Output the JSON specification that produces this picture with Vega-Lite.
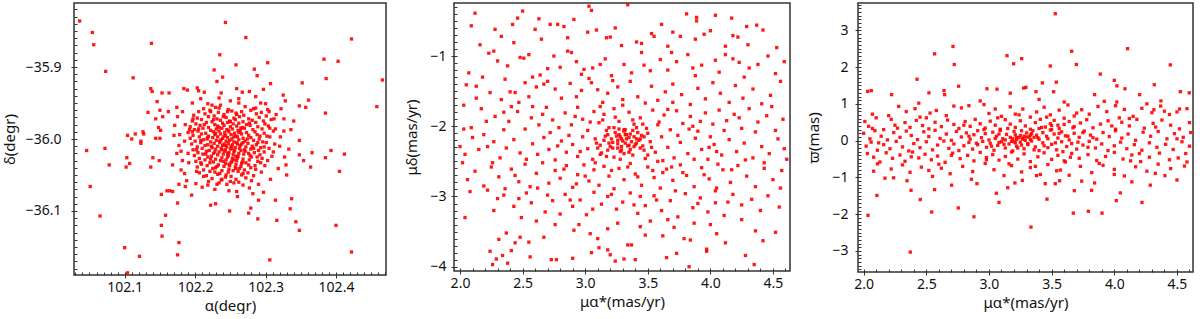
{
"$schema":"https://vega.github.io/schema/vega-lite/v6.json",
"background":"white",
"padding":{"left":1,"top":2,"right":2,"bottom":0},
"bounds":"flush",
"spacing":68,
"config":{"view":{"stroke":"#333","strokeWidth":1.5},"axis":{"domain":false,"grid":false,"ticks":true,"labelFont":"Noto Sans","labelFontSize":14,"labelColor":"#111","titleFont":"Noto Sans","titleFontSize":15,"titleFontWeight":"normal","titleColor":"#111","tickColor":"#333","tickWidth":1,"labelOverlap":false,"labelFlush":false,"offset":-3}},
"datasets":{
"radec":[
{"ra":102.036,"dec":-35.836},{"ra":102.243,"dec":-35.838},{"ra":102.054,"dec":-35.852},{"ra":102.056,"dec":-35.869},{"ra":102.272,"dec":-35.859},{"ra":102.422,"dec":-35.861},{"ra":102.138,"dec":-35.867},{"ra":102.235,"dec":-35.883},{"ra":102.073,"dec":-35.906},{"ra":102.112,"dec":-35.915},{"ra":102.258,"dec":-35.897},{"ra":102.303,"dec":-35.894},{"ra":102.383,"dec":-35.889},{"ra":102.403,"dec":-35.892},{"ra":102.227,"dec":-35.904},{"ra":102.284,"dec":-35.903},{"ra":102.231,"dec":-35.920},{"ra":102.239,"dec":-35.914},{"ra":102.288,"dec":-35.912},{"ra":102.307,"dec":-35.923},{"ra":102.352,"dec":-35.922},{"ra":102.386,"dec":-35.916},{"ra":102.466,"dec":-35.918},{"ra":102.137,"dec":-35.930},{"ra":102.139,"dec":-35.934},{"ra":102.153,"dec":-35.936},{"ra":102.163,"dec":-35.936},{"ra":102.184,"dec":-35.930},{"ra":102.189,"dec":-35.932},{"ra":102.203,"dec":-35.929},{"ra":102.205,"dec":-35.933},{"ra":102.213,"dec":-35.935},{"ra":102.259,"dec":-35.930},{"ra":102.267,"dec":-35.935},{"ra":102.277,"dec":-35.934},{"ra":102.297,"dec":-35.931},{"ra":102.325,"dec":-35.939},{"ra":102.361,"dec":-35.946},{"ra":102.328,"dec":-35.947},{"ra":102.348,"dec":-35.954},{"ra":102.357,"dec":-35.956},{"ra":102.458,"dec":-35.955},{"ra":102.385,"dec":-35.964},{"ra":102.146,"dec":-35.948},{"ra":102.174,"dec":-35.956},{"ra":102.150,"dec":-35.960},{"ra":102.162,"dec":-35.962},{"ra":102.133,"dec":-35.963},{"ra":102.154,"dec":-35.969},{"ra":102.144,"dec":-35.972},{"ra":102.175,"dec":-35.969},{"ra":102.148,"dec":-35.984},{"ra":102.151,"dec":-35.988},{"ra":102.126,"dec":-35.990},{"ra":102.127,"dec":-35.993},{"ra":102.104,"dec":-35.995},{"ra":102.110,"dec":-36.000},{"ra":102.115,"dec":-35.993},{"ra":102.123,"dec":-36.003},{"ra":102.123,"dec":-36.006},{"ra":102.144,"dec":-35.999},{"ra":102.150,"dec":-35.999},{"ra":102.046,"dec":-36.016},{"ra":102.072,"dec":-36.013},{"ra":102.103,"dec":-36.026},{"ra":102.102,"dec":-36.039},{"ra":102.107,"dec":-36.034},{"ra":102.078,"dec":-36.036},{"ra":102.051,"dec":-36.066},{"ra":102.065,"dec":-36.107},{"ra":102.100,"dec":-36.151},{"ra":102.121,"dec":-36.163},{"ra":102.104,"dec":-36.186},{"ra":102.137,"dec":-36.039},{"ra":102.140,"dec":-36.026},{"ra":102.149,"dec":-36.030},{"ra":102.152,"dec":-36.077},{"ra":102.160,"dec":-36.072},{"ra":102.164,"dec":-36.072},{"ra":102.168,"dec":-36.073},{"ra":102.175,"dec":-36.089},{"ra":102.177,"dec":-36.063},{"ra":102.158,"dec":-36.106},{"ra":102.152,"dec":-36.120},{"ra":102.153,"dec":-36.135},{"ra":102.177,"dec":-36.144},{"ra":102.175,"dec":-36.161},{"ra":102.222,"dec":-36.092},{"ra":102.229,"dec":-36.090},{"ra":102.249,"dec":-36.100},{"ra":102.218,"dec":-36.064},{"ra":102.234,"dec":-36.061},{"ra":102.245,"dec":-36.063},{"ra":102.259,"dec":-36.073},{"ra":102.276,"dec":-36.103},{"ra":102.279,"dec":-36.096},{"ra":102.282,"dec":-36.076},{"ra":102.289,"dec":-36.111},{"ra":102.290,"dec":-36.085},{"ra":102.297,"dec":-36.074},{"ra":102.306,"dec":-36.168},{"ra":102.314,"dec":-36.085},{"ra":102.316,"dec":-36.113},{"ra":102.335,"dec":-36.097},{"ra":102.337,"dec":-36.083},{"ra":102.343,"dec":-36.115},{"ra":102.348,"dec":-36.127},{"ra":102.329,"dec":-36.036},{"ra":102.354,"dec":-36.030},{"ra":102.366,"dec":-36.019},{"ra":102.364,"dec":-36.039},{"ra":102.385,"dec":-36.026},{"ra":102.393,"dec":-36.016},{"ra":102.405,"dec":-36.045},{"ra":102.400,"dec":-36.120},{"ra":102.422,"dec":-36.157},{"ra":102.412,"dec":-36.021},{"ra":102.333,"dec":-36.014},{"ra":102.348,"dec":-36.022},{"ra":102.348,"dec":-36.002},{"ra":102.336,"dec":-35.987},{"ra":102.326,"dec":-35.989},{"ra":102.314,"dec":-35.986},{"ra":102.326,"dec":-35.972},{"ra":102.312,"dec":-35.972},{"ra":102.305,"dec":-35.962},{"ra":102.303,"dec":-35.959},{"ra":102.293,"dec":-35.950},{"ra":102.286,"dec":-35.941},{"ra":102.234,"dec":-35.943},{"ra":102.250,"dec":-35.947},{"ra":102.224,"dec":-35.953},{"ra":102.197,"dec":-35.972},{"ra":102.192,"dec":-35.987},{"ra":102.178,"dec":-35.994},{"ra":102.185,"dec":-36.003},{"ra":102.177,"dec":-36.009},{"ra":102.180,"dec":-36.017},{"ra":102.191,"dec":-36.033},{"ra":102.202,"dec":-36.045},{"ra":102.212,"dec":-36.052},{"ra":102.182,"dec":-36.030},{"ra":102.180,"dec":-36.043},{"ra":102.185,"dec":-36.048},
{"ra":102.218,"dec":-35.951},{"ra":102.236,"dec":-35.953},{"ra":102.262,"dec":-35.950},
{"ra":102.212,"dec":-35.958},{"ra":102.229,"dec":-35.956},{"ra":102.247,"dec":-35.959},{"ra":102.271,"dec":-35.955},{"ra":102.283,"dec":-35.958},
{"ra":102.205,"dec":-35.962},{"ra":102.221,"dec":-35.960},{"ra":102.233,"dec":-35.963},{"ra":102.252,"dec":-35.961},{"ra":102.266,"dec":-35.962},{"ra":102.279,"dec":-35.960},{"ra":102.294,"dec":-35.963},
{"ra":102.198,"dec":-35.967},{"ra":102.214,"dec":-35.965},{"ra":102.227,"dec":-35.968},{"ra":102.241,"dec":-35.966},{"ra":102.258,"dec":-35.964},{"ra":102.269,"dec":-35.967},{"ra":102.287,"dec":-35.965},{"ra":102.301,"dec":-35.968},
{"ra":102.203,"dec":-35.971},{"ra":102.219,"dec":-35.969},{"ra":102.231,"dec":-35.972},{"ra":102.244,"dec":-35.970},{"ra":102.255,"dec":-35.971},{"ra":102.263,"dec":-35.969},{"ra":102.276,"dec":-35.972},{"ra":102.291,"dec":-35.970},
{"ra":102.196,"dec":-35.975},{"ra":102.209,"dec":-35.973},{"ra":102.224,"dec":-35.976},{"ra":102.236,"dec":-35.974},{"ra":102.249,"dec":-35.975},{"ra":102.257,"dec":-35.973},{"ra":102.268,"dec":-35.976},{"ra":102.281,"dec":-35.974},{"ra":102.297,"dec":-35.975},{"ra":102.308,"dec":-35.973},
{"ra":102.201,"dec":-35.979},{"ra":102.216,"dec":-35.977},{"ra":102.228,"dec":-35.980},{"ra":102.239,"dec":-35.978},{"ra":102.246,"dec":-35.977},{"ra":102.254,"dec":-35.979},{"ra":102.262,"dec":-35.978},{"ra":102.273,"dec":-35.980},{"ra":102.286,"dec":-35.977},{"ra":102.299,"dec":-35.979},
{"ra":102.193,"dec":-35.983},{"ra":102.207,"dec":-35.981},{"ra":102.219,"dec":-35.984},{"ra":102.232,"dec":-35.982},{"ra":102.241,"dec":-35.981},{"ra":102.250,"dec":-35.983},{"ra":102.259,"dec":-35.982},{"ra":102.267,"dec":-35.984},{"ra":102.278,"dec":-35.981},{"ra":102.289,"dec":-35.983},{"ra":102.304,"dec":-35.982},
{"ra":102.199,"dec":-35.987},{"ra":102.211,"dec":-35.985},{"ra":102.222,"dec":-35.988},{"ra":102.230,"dec":-35.986},{"ra":102.238,"dec":-35.985},{"ra":102.245,"dec":-35.987},{"ra":102.253,"dec":-35.986},{"ra":102.261,"dec":-35.988},{"ra":102.270,"dec":-35.985},{"ra":102.282,"dec":-35.987},{"ra":102.295,"dec":-35.986},
{"ra":102.190,"dec":-35.991},{"ra":102.204,"dec":-35.989},{"ra":102.215,"dec":-35.992},{"ra":102.226,"dec":-35.990},{"ra":102.234,"dec":-35.989},{"ra":102.242,"dec":-35.991},{"ra":102.248,"dec":-35.990},{"ra":102.256,"dec":-35.992},{"ra":102.264,"dec":-35.989},{"ra":102.273,"dec":-35.991},{"ra":102.285,"dec":-35.990},{"ra":102.298,"dec":-35.992},{"ra":102.311,"dec":-35.989},
{"ra":102.197,"dec":-35.995},{"ra":102.209,"dec":-35.993},{"ra":102.219,"dec":-35.996},{"ra":102.228,"dec":-35.994},{"ra":102.236,"dec":-35.993},{"ra":102.243,"dec":-35.995},{"ra":102.251,"dec":-35.994},{"ra":102.258,"dec":-35.996},{"ra":102.266,"dec":-35.993},{"ra":102.276,"dec":-35.995},{"ra":102.288,"dec":-35.994},{"ra":102.302,"dec":-35.996},
{"ra":102.193,"dec":-35.999},{"ra":102.206,"dec":-35.997},{"ra":102.217,"dec":-36.000},{"ra":102.225,"dec":-35.998},{"ra":102.232,"dec":-35.997},{"ra":102.239,"dec":-35.999},{"ra":102.246,"dec":-35.998},{"ra":102.252,"dec":-36.000},{"ra":102.260,"dec":-35.997},{"ra":102.268,"dec":-35.999},{"ra":102.279,"dec":-35.998},{"ra":102.291,"dec":-36.000},{"ra":102.306,"dec":-35.997},
{"ra":102.200,"dec":-36.003},{"ra":102.212,"dec":-36.001},{"ra":102.222,"dec":-36.004},{"ra":102.230,"dec":-36.002},{"ra":102.237,"dec":-36.001},{"ra":102.244,"dec":-36.003},{"ra":102.249,"dec":-36.002},{"ra":102.255,"dec":-36.004},{"ra":102.262,"dec":-36.001},{"ra":102.271,"dec":-36.003},{"ra":102.283,"dec":-36.002},{"ra":102.296,"dec":-36.004},
{"ra":102.195,"dec":-36.007},{"ra":102.208,"dec":-36.005},{"ra":102.218,"dec":-36.008},{"ra":102.227,"dec":-36.006},{"ra":102.235,"dec":-36.005},{"ra":102.241,"dec":-36.007},{"ra":102.247,"dec":-36.006},{"ra":102.253,"dec":-36.008},{"ra":102.259,"dec":-36.005},{"ra":102.266,"dec":-36.007},{"ra":102.275,"dec":-36.006},{"ra":102.287,"dec":-36.008},{"ra":102.301,"dec":-36.005},{"ra":102.313,"dec":-36.007},
{"ra":102.203,"dec":-36.011},{"ra":102.214,"dec":-36.009},{"ra":102.224,"dec":-36.012},{"ra":102.232,"dec":-36.010},{"ra":102.239,"dec":-36.009},{"ra":102.245,"dec":-36.011},{"ra":102.251,"dec":-36.010},{"ra":102.257,"dec":-36.012},{"ra":102.264,"dec":-36.009},{"ra":102.272,"dec":-36.011},{"ra":102.281,"dec":-36.010},{"ra":102.293,"dec":-36.012},
{"ra":102.197,"dec":-36.015},{"ra":102.210,"dec":-36.013},{"ra":102.220,"dec":-36.016},{"ra":102.229,"dec":-36.014},{"ra":102.237,"dec":-36.013},{"ra":102.243,"dec":-36.015},{"ra":102.250,"dec":-36.014},{"ra":102.256,"dec":-36.016},{"ra":102.263,"dec":-36.013},{"ra":102.270,"dec":-36.015},{"ra":102.279,"dec":-36.014},{"ra":102.290,"dec":-36.016},{"ra":102.305,"dec":-36.013},
{"ra":102.204,"dec":-36.019},{"ra":102.216,"dec":-36.017},{"ra":102.226,"dec":-36.020},{"ra":102.234,"dec":-36.018},{"ra":102.242,"dec":-36.017},{"ra":102.248,"dec":-36.019},{"ra":102.255,"dec":-36.018},{"ra":102.262,"dec":-36.020},{"ra":102.271,"dec":-36.017},{"ra":102.284,"dec":-36.019},{"ra":102.298,"dec":-36.018},
{"ra":102.199,"dec":-36.023},{"ra":102.211,"dec":-36.021},{"ra":102.223,"dec":-36.024},{"ra":102.232,"dec":-36.022},{"ra":102.240,"dec":-36.021},{"ra":102.247,"dec":-36.023},{"ra":102.254,"dec":-36.022},{"ra":102.261,"dec":-36.024},{"ra":102.269,"dec":-36.021},{"ra":102.278,"dec":-36.023},{"ra":102.292,"dec":-36.022},{"ra":102.309,"dec":-36.024},
{"ra":102.206,"dec":-36.027},{"ra":102.218,"dec":-36.025},{"ra":102.229,"dec":-36.028},{"ra":102.238,"dec":-36.026},{"ra":102.246,"dec":-36.025},{"ra":102.253,"dec":-36.027},{"ra":102.260,"dec":-36.026},{"ra":102.268,"dec":-36.028},{"ra":102.280,"dec":-36.025},{"ra":102.295,"dec":-36.027},
{"ra":102.201,"dec":-36.031},{"ra":102.214,"dec":-36.029},{"ra":102.226,"dec":-36.032},{"ra":102.236,"dec":-36.030},{"ra":102.244,"dec":-36.029},{"ra":102.252,"dec":-36.031},{"ra":102.259,"dec":-36.030},{"ra":102.267,"dec":-36.032},{"ra":102.277,"dec":-36.029},{"ra":102.289,"dec":-36.031},{"ra":102.303,"dec":-36.030},
{"ra":102.209,"dec":-36.035},{"ra":102.221,"dec":-36.033},{"ra":102.233,"dec":-36.036},{"ra":102.243,"dec":-36.034},{"ra":102.251,"dec":-36.033},{"ra":102.258,"dec":-36.035},{"ra":102.266,"dec":-36.034},{"ra":102.276,"dec":-36.036},{"ra":102.293,"dec":-36.033},
{"ra":102.203,"dec":-36.039},{"ra":102.217,"dec":-36.037},{"ra":102.229,"dec":-36.040},{"ra":102.241,"dec":-36.038},{"ra":102.249,"dec":-36.037},{"ra":102.257,"dec":-36.039},{"ra":102.265,"dec":-36.038},{"ra":102.279,"dec":-36.040},{"ra":102.299,"dec":-36.037},
{"ra":102.212,"dec":-36.043},{"ra":102.225,"dec":-36.041},{"ra":102.238,"dec":-36.044},{"ra":102.248,"dec":-36.042},{"ra":102.258,"dec":-36.041},{"ra":102.270,"dec":-36.043},{"ra":102.286,"dec":-36.042},
{"ra":102.206,"dec":-36.047},{"ra":102.221,"dec":-36.045},{"ra":102.235,"dec":-36.048},{"ra":102.247,"dec":-36.046},{"ra":102.261,"dec":-36.045},{"ra":102.275,"dec":-36.047},{"ra":102.294,"dec":-36.046},
{"ra":102.216,"dec":-36.051},{"ra":102.232,"dec":-36.049},{"ra":102.251,"dec":-36.052},{"ra":102.266,"dec":-36.050},{"ra":102.283,"dec":-36.051},
{"ra":102.224,"dec":-36.055},{"ra":102.243,"dec":-36.053},{"ra":102.258,"dec":-36.056},{"ra":102.272,"dec":-36.054},
{"ra":102.219,"dec":-36.059},{"ra":102.237,"dec":-36.057},{"ra":102.262,"dec":-36.060},{"ra":102.280,"dec":-36.058},
{"ra":102.231,"dec":-36.063},{"ra":102.255,"dec":-36.061},{"ra":102.268,"dec":-36.064},
{"ra":102.222,"dec":-35.962},{"ra":102.240,"dec":-35.969},{"ra":102.259,"dec":-35.966},{"ra":102.277,"dec":-35.978},{"ra":102.213,"dec":-35.980},{"ra":102.226,"dec":-35.973},{"ra":102.250,"dec":-35.976},{"ra":102.265,"dec":-35.985},{"ra":102.205,"dec":-35.986},{"ra":102.234,"dec":-35.984},{"ra":102.247,"dec":-35.988},{"ra":102.292,"dec":-35.996},{"ra":102.218,"dec":-35.998},{"ra":102.229,"dec":-35.992},{"ra":102.241,"dec":-35.996},{"ra":102.255,"dec":-35.997},{"ra":102.262,"dec":-35.991},{"ra":102.274,"dec":-36.000},{"ra":102.208,"dec":-36.002},{"ra":102.223,"dec":-36.010},{"ra":102.235,"dec":-36.003},{"ra":102.243,"dec":-36.009},{"ra":102.252,"dec":-36.013},{"ra":102.260,"dec":-36.007},{"ra":102.268,"dec":-36.005},{"ra":102.283,"dec":-36.013},{"ra":102.215,"dec":-36.021},{"ra":102.228,"dec":-36.018},{"ra":102.238,"dec":-36.015},{"ra":102.246,"dec":-36.020},{"ra":102.258,"dec":-36.024},{"ra":102.265,"dec":-36.016},{"ra":102.276,"dec":-36.020},{"ra":102.288,"dec":-36.025},{"ra":102.208,"dec":-36.033},{"ra":102.222,"dec":-36.028},{"ra":102.231,"dec":-36.038},{"ra":102.240,"dec":-36.031},{"ra":102.248,"dec":-36.035},{"ra":102.255,"dec":-36.029},{"ra":102.263,"dec":-36.041},{"ra":102.272,"dec":-36.033},{"ra":102.285,"dec":-36.037},{"ra":102.228,"dec":-36.046},{"ra":102.244,"dec":-36.050},{"ra":102.254,"dec":-36.044},{"ra":102.268,"dec":-36.048},{"ra":102.238,"dec":-36.056},{"ra":102.250,"dec":-36.059},{"ra":102.246,"dec":-35.962},{"ra":102.234,"dec":-35.957},{"ra":102.289,"dec":-36.005},{"ra":102.298,"dec":-36.011},{"ra":102.202,"dec":-36.015},{"ra":102.196,"dec":-35.990},{"ra":102.311,"dec":-36.018},{"ra":102.190,"dec":-36.020},{"ra":102.186,"dec":-35.980},{"ra":102.306,"dec":-35.985},
{"ra":102.182,"dec":-35.962},{"ra":102.188,"dec":-36.058},{"ra":102.196,"dec":-35.950},{"ra":102.201,"dec":-36.062},{"ra":102.208,"dec":-35.944},{"ra":102.228,"dec":-36.070},{"ra":102.262,"dec":-35.944},{"ra":102.286,"dec":-35.957},{"ra":102.300,"dec":-35.951},{"ra":102.315,"dec":-35.966},{"ra":102.321,"dec":-35.997},{"ra":102.318,"dec":-36.041},{"ra":102.307,"dec":-36.056},{"ra":102.290,"dec":-36.063},{"ra":102.277,"dec":-36.068},{"ra":102.248,"dec":-36.072},{"ra":102.210,"dec":-36.067},{"ra":102.174,"dec":-36.020},{"ra":102.171,"dec":-35.981},{"ra":102.168,"dec":-36.036},{"ra":102.320,"dec":-36.010},{"ra":102.327,"dec":-36.025},{"ra":102.322,"dec":-35.958},{"ra":102.186,"dec":-36.066},{"ra":102.260,"dec":-36.080},{"ra":102.237,"dec":-35.936},{"ra":102.195,"dec":-36.078},{"ra":102.330,"dec":-36.050},{"ra":102.170,"dec":-35.995},{"ra":102.340,"dec":-35.975}
],
"pm":[
{"pmra":2.09,"pmdec":-0.57},{"pmra":2.12,"pmdec":-0.39},{"pmra":2.42,"pmdec":-0.55},{"pmra":2.46,"pmdec":-0.46},{"pmra":2.50,"pmdec":-0.36},{"pmra":3.03,"pmdec":-0.29},{"pmra":3.05,"pmdec":-0.35},{"pmra":3.34,"pmdec":-0.27},{"pmra":3.55,"pmdec":-0.72},{"pmra":3.81,"pmdec":-0.40},{"pmra":3.89,"pmdec":-0.45},{"pmra":4.04,"pmdec":-0.42},{"pmra":4.37,"pmdec":-0.56},{"pmra":4.42,"pmdec":-0.63},{"pmra":2.63,"pmdec":-0.47},{"pmra":3.89,"pmdec":-0.50},{"pmra":3.02,"pmdec":-0.66},
{"pmra":2.16,"pmdec":-0.84},{"pmra":2.27,"pmdec":-0.93},{"pmra":2.33,"pmdec":-0.72},{"pmra":2.43,"pmdec":-0.81},{"pmra":2.65,"pmdec":-0.76},{"pmra":2.72,"pmdec":-0.55},{"pmra":2.78,"pmdec":-0.55},{"pmra":2.83,"pmdec":-0.58},{"pmra":2.86,"pmdec":-0.74},{"pmra":3.09,"pmdec":-0.63},{"pmra":3.17,"pmdec":-0.74},{"pmra":3.24,"pmdec":-0.60},{"pmra":3.20,"pmdec":-0.73},{"pmra":3.29,"pmdec":-0.85},{"pmra":3.41,"pmdec":-0.80},{"pmra":3.45,"pmdec":-0.82},{"pmra":3.53,"pmdec":-0.68},{"pmra":3.70,"pmdec":-0.66},{"pmra":3.76,"pmdec":-0.72},{"pmra":3.88,"pmdec":-0.76},{"pmra":3.95,"pmdec":-0.69},{"pmra":4.00,"pmdec":-0.64},{"pmra":4.12,"pmdec":-0.86},{"pmra":4.18,"pmdec":-0.71},{"pmra":4.22,"pmdec":-0.73},{"pmra":4.29,"pmdec":-0.58},{"pmra":4.53,"pmdec":-0.88},{"pmra":2.60,"pmdec":-0.62},{"pmra":3.66,"pmdec":-0.86},{"pmra":4.30,"pmdec":-0.84},
{"pmra":2.07,"pmdec":-1.24},{"pmra":2.23,"pmdec":-0.96},{"pmra":2.30,"pmdec":-1.07},{"pmra":2.38,"pmdec":-1.14},{"pmra":2.48,"pmdec":-1.02},{"pmra":2.51,"pmdec":-1.03},{"pmra":2.55,"pmdec":-0.98},{"pmra":2.36,"pmdec":-1.33},{"pmra":2.58,"pmdec":-1.30},{"pmra":2.75,"pmdec":-1.00},{"pmra":2.86,"pmdec":-0.93},{"pmra":2.89,"pmdec":-0.95},{"pmra":2.93,"pmdec":-1.08},{"pmra":2.99,"pmdec":-1.19},{"pmra":3.06,"pmdec":-1.17},{"pmra":3.12,"pmdec":-1.12},{"pmra":3.21,"pmdec":-1.28},{"pmra":3.37,"pmdec":-1.24},{"pmra":3.47,"pmdec":-1.13},{"pmra":3.60,"pmdec":-1.05},{"pmra":3.66,"pmdec":-1.20},{"pmra":3.73,"pmdec":-1.08},{"pmra":3.82,"pmdec":-0.98},{"pmra":3.93,"pmdec":-1.13},{"pmra":4.04,"pmdec":-1.06},{"pmra":4.12,"pmdec":-0.98},{"pmra":4.18,"pmdec":-1.04},{"pmra":4.23,"pmdec":-1.09},{"pmra":4.31,"pmdec":-1.17},{"pmra":4.38,"pmdec":-1.12},{"pmra":4.59,"pmdec":-1.08},{"pmra":4.52,"pmdec":-1.25},{"pmra":2.70,"pmdec":-1.18},{"pmra":3.45,"pmdec":-0.95},{"pmra":3.88,"pmdec":-1.28},{"pmra":4.46,"pmdec":-1.00},{"pmra":2.18,"pmdec":-1.30},
{"pmra":2.03,"pmdec":-1.70},{"pmra":2.05,"pmdec":-1.41},{"pmra":2.13,"pmdec":-1.43},{"pmra":2.24,"pmdec":-1.52},{"pmra":2.40,"pmdec":-1.51},{"pmra":2.44,"pmdec":-1.52},{"pmra":2.47,"pmdec":-1.66},{"pmra":2.55,"pmdec":-1.58},{"pmra":2.61,"pmdec":-1.44},{"pmra":2.67,"pmdec":-1.40},{"pmra":2.70,"pmdec":-1.36},{"pmra":2.76,"pmdec":-1.47},{"pmra":2.81,"pmdec":-1.60},{"pmra":2.88,"pmdec":-1.39},{"pmra":2.93,"pmdec":-1.58},{"pmra":2.97,"pmdec":-1.49},{"pmra":3.03,"pmdec":-1.32},{"pmra":3.05,"pmdec":-1.38},{"pmra":3.10,"pmdec":-1.48},{"pmra":3.14,"pmdec":-1.66},{"pmra":3.18,"pmdec":-1.53},{"pmra":3.26,"pmdec":-1.44},{"pmra":3.30,"pmdec":-1.62},{"pmra":3.36,"pmdec":-1.36},{"pmra":3.42,"pmdec":-1.58},{"pmra":3.48,"pmdec":-1.67},{"pmra":3.53,"pmdec":-1.43},{"pmra":3.58,"pmdec":-1.63},{"pmra":3.64,"pmdec":-1.51},{"pmra":3.70,"pmdec":-1.40},{"pmra":3.77,"pmdec":-1.55},{"pmra":3.84,"pmdec":-1.69},{"pmra":3.90,"pmdec":-1.46},{"pmra":3.96,"pmdec":-1.61},{"pmra":4.02,"pmdec":-1.38},{"pmra":4.08,"pmdec":-1.53},{"pmra":4.15,"pmdec":-1.66},{"pmra":4.20,"pmdec":-1.42},{"pmra":4.26,"pmdec":-1.60},{"pmra":4.34,"pmdec":-1.47},{"pmra":4.41,"pmdec":-1.68},{"pmra":4.48,"pmdec":-1.56},{"pmra":4.56,"pmdec":-1.36},{"pmra":2.33,"pmdec":-1.62},{"pmra":3.22,"pmdec":-1.35},{"pmra":3.70,"pmdec":-1.66},
{"pmra":2.09,"pmdec":-2.02},{"pmra":2.17,"pmdec":-1.75},{"pmra":2.21,"pmdec":-1.93},{"pmra":2.28,"pmdec":-1.86},{"pmra":2.35,"pmdec":-2.05},{"pmra":2.39,"pmdec":-1.93},{"pmra":2.46,"pmdec":-1.79},{"pmra":2.52,"pmdec":-2.04},{"pmra":2.57,"pmdec":-1.88},{"pmra":2.63,"pmdec":-1.98},{"pmra":2.69,"pmdec":-1.73},{"pmra":2.74,"pmdec":-1.91},{"pmra":2.79,"pmdec":-2.02},{"pmra":2.84,"pmdec":-1.81},{"pmra":2.89,"pmdec":-1.98},{"pmra":2.94,"pmdec":-1.73},{"pmra":2.98,"pmdec":-1.90},{"pmra":3.02,"pmdec":-2.06},{"pmra":3.07,"pmdec":-1.79},{"pmra":3.11,"pmdec":-1.95},{"pmra":3.15,"pmdec":-1.83},{"pmra":3.19,"pmdec":-2.02},{"pmra":3.23,"pmdec":-1.75},{"pmra":3.27,"pmdec":-1.93},{"pmra":3.31,"pmdec":-2.05},{"pmra":3.35,"pmdec":-1.80},{"pmra":3.39,"pmdec":-1.97},{"pmra":3.44,"pmdec":-1.88},{"pmra":3.49,"pmdec":-2.03},{"pmra":3.54,"pmdec":-1.77},{"pmra":3.59,"pmdec":-1.94},{"pmra":3.63,"pmdec":-1.84},{"pmra":3.68,"pmdec":-2.05},{"pmra":3.73,"pmdec":-1.78},{"pmra":3.78,"pmdec":-1.96},{"pmra":3.84,"pmdec":-1.86},{"pmra":3.90,"pmdec":-2.07},{"pmra":3.96,"pmdec":-1.81},{"pmra":4.02,"pmdec":-1.97},{"pmra":4.07,"pmdec":-1.77},{"pmra":4.13,"pmdec":-1.92},{"pmra":4.19,"pmdec":-1.83},{"pmra":4.25,"pmdec":-2.03},{"pmra":4.31,"pmdec":-1.75},{"pmra":4.38,"pmdec":-1.94},{"pmra":4.45,"pmdec":-1.85},{"pmra":4.52,"pmdec":-2.06},{"pmra":4.58,"pmdec":-1.90},{"pmra":2.03,"pmdec":-2.04},{"pmra":2.41,"pmdec":-1.72},{"pmra":3.12,"pmdec":-1.72},{"pmra":3.86,"pmdec":-2.0},
{"pmra":2.00,"pmdec":-2.29},{"pmra":2.04,"pmdec":-2.40},{"pmra":2.10,"pmdec":-2.16},{"pmra":2.15,"pmdec":-2.33},{"pmra":2.22,"pmdec":-2.29},{"pmra":2.27,"pmdec":-2.22},{"pmra":2.32,"pmdec":-2.45},{"pmra":2.37,"pmdec":-2.31},{"pmra":2.43,"pmdec":-2.19},{"pmra":2.48,"pmdec":-2.38},{"pmra":2.53,"pmdec":-2.47},{"pmra":2.58,"pmdec":-2.25},{"pmra":2.62,"pmdec":-2.40},{"pmra":2.67,"pmdec":-2.16},{"pmra":2.71,"pmdec":-2.33},{"pmra":2.76,"pmdec":-2.48},{"pmra":2.81,"pmdec":-2.21},{"pmra":2.85,"pmdec":-2.37},{"pmra":2.90,"pmdec":-2.26},{"pmra":2.94,"pmdec":-2.43},{"pmra":2.98,"pmdec":-2.15},{"pmra":3.02,"pmdec":-2.32},{"pmra":3.06,"pmdec":-2.47},{"pmra":3.09,"pmdec":-2.24},{"pmra":3.13,"pmdec":-2.38},{"pmra":3.16,"pmdec":-2.14},{"pmra":3.20,"pmdec":-2.29},{"pmra":3.23,"pmdec":-2.44},{"pmra":3.26,"pmdec":-2.20},{"pmra":3.29,"pmdec":-2.34},{"pmra":3.32,"pmdec":-2.12},{"pmra":3.35,"pmdec":-2.27},{"pmra":3.38,"pmdec":-2.41},{"pmra":3.41,"pmdec":-2.18},{"pmra":3.44,"pmdec":-2.31},{"pmra":3.48,"pmdec":-2.46},{"pmra":3.52,"pmdec":-2.22},{"pmra":3.56,"pmdec":-2.37},{"pmra":3.61,"pmdec":-2.15},{"pmra":3.66,"pmdec":-2.30},{"pmra":3.71,"pmdec":-2.45},{"pmra":3.76,"pmdec":-2.23},{"pmra":3.82,"pmdec":-2.39},{"pmra":3.88,"pmdec":-2.17},{"pmra":3.93,"pmdec":-2.33},{"pmra":3.98,"pmdec":-2.47},{"pmra":4.03,"pmdec":-2.26},{"pmra":4.09,"pmdec":-2.41},{"pmra":4.15,"pmdec":-2.19},{"pmra":4.21,"pmdec":-2.36},{"pmra":4.27,"pmdec":-2.24},{"pmra":4.34,"pmdec":-2.45},{"pmra":4.41,"pmdec":-2.29},{"pmra":4.47,"pmdec":-2.39},{"pmra":4.54,"pmdec":-2.18},{"pmra":4.59,"pmdec":-2.32},{"pmra":3.99,"pmdec":-2.30},{"pmra":4.05,"pmdec":-2.36},
{"pmra":3.18,"pmdec":-2.12},{"pmra":3.21,"pmdec":-2.18},{"pmra":3.24,"pmdec":-2.09},{"pmra":3.26,"pmdec":-2.25},{"pmra":3.28,"pmdec":-2.15},{"pmra":3.30,"pmdec":-2.21},{"pmra":3.31,"pmdec":-2.07},{"pmra":3.33,"pmdec":-2.18},{"pmra":3.34,"pmdec":-2.28},{"pmra":3.36,"pmdec":-2.11},{"pmra":3.37,"pmdec":-2.22},{"pmra":3.39,"pmdec":-2.15},{"pmra":3.40,"pmdec":-2.26},{"pmra":3.42,"pmdec":-2.09},{"pmra":3.43,"pmdec":-2.20},{"pmra":3.45,"pmdec":-2.13},{"pmra":3.22,"pmdec":-2.31},{"pmra":3.25,"pmdec":-2.14},{"pmra":3.27,"pmdec":-2.04},{"pmra":3.29,"pmdec":-2.29},{"pmra":3.32,"pmdec":-2.24},{"pmra":3.35,"pmdec":-2.16},{"pmra":3.38,"pmdec":-2.06},{"pmra":3.41,"pmdec":-2.24},{"pmra":3.44,"pmdec":-2.18},{"pmra":3.19,"pmdec":-2.24},{"pmra":3.15,"pmdec":-2.20},{"pmra":3.47,"pmdec":-2.15},{"pmra":3.28,"pmdec":-2.36},{"pmra":3.36,"pmdec":-2.33},{"pmra":3.12,"pmdec":-2.27},{"pmra":3.50,"pmdec":-2.10},{"pmra":3.23,"pmdec":-2.02},{"pmra":3.33,"pmdec":-2.12},{"pmra":3.31,"pmdec":-2.39},{"pmra":3.17,"pmdec":-2.06},{"pmra":3.46,"pmdec":-2.28},{"pmra":3.08,"pmdec":-2.18},{"pmra":3.53,"pmdec":-2.30},{"pmra":3.26,"pmdec":-2.31},
{"pmra":2.02,"pmdec":-2.52},{"pmra":2.06,"pmdec":-2.76},{"pmra":2.12,"pmdec":-2.64},{"pmra":2.19,"pmdec":-2.85},{"pmra":2.25,"pmdec":-2.58},{"pmra":2.31,"pmdec":-2.72},{"pmra":2.36,"pmdec":-2.89},{"pmra":2.41,"pmdec":-2.61},{"pmra":2.47,"pmdec":-2.79},{"pmra":2.52,"pmdec":-2.54},{"pmra":2.56,"pmdec":-2.86},{"pmra":2.61,"pmdec":-2.67},{"pmra":2.66,"pmdec":-2.52},{"pmra":2.71,"pmdec":-2.81},{"pmra":2.76,"pmdec":-2.63},{"pmra":2.80,"pmdec":-2.74},{"pmra":2.85,"pmdec":-2.56},{"pmra":2.90,"pmdec":-2.87},{"pmra":2.94,"pmdec":-2.69},{"pmra":2.99,"pmdec":-2.55},{"pmra":3.03,"pmdec":-2.78},{"pmra":3.07,"pmdec":-2.62},{"pmra":3.11,"pmdec":-2.84},{"pmra":3.15,"pmdec":-2.57},{"pmra":3.19,"pmdec":-2.71},{"pmra":3.23,"pmdec":-2.89},{"pmra":3.27,"pmdec":-2.60},{"pmra":3.31,"pmdec":-2.76},{"pmra":3.36,"pmdec":-2.53},{"pmra":3.40,"pmdec":-2.68},{"pmra":3.45,"pmdec":-2.84},{"pmra":3.50,"pmdec":-2.58},{"pmra":3.55,"pmdec":-2.73},{"pmra":3.60,"pmdec":-2.88},{"pmra":3.65,"pmdec":-2.61},{"pmra":3.70,"pmdec":-2.77},{"pmra":3.76,"pmdec":-2.55},{"pmra":3.81,"pmdec":-2.70},{"pmra":3.87,"pmdec":-2.86},{"pmra":3.93,"pmdec":-2.59},{"pmra":3.99,"pmdec":-2.75},{"pmra":4.05,"pmdec":-2.88},{"pmra":4.10,"pmdec":-2.62},{"pmra":4.16,"pmdec":-2.80},{"pmra":4.22,"pmdec":-2.56},{"pmra":4.29,"pmdec":-2.71},{"pmra":4.36,"pmdec":-2.86},{"pmra":4.43,"pmdec":-2.60},{"pmra":4.50,"pmdec":-2.76},{"pmra":4.57,"pmdec":-2.63},{"pmra":3.58,"pmdec":-2.50},{"pmra":3.62,"pmdec":-2.66},{"pmra":2.93,"pmdec":-2.82},{"pmra":4.04,"pmdec":-2.92},
{"pmra":2.04,"pmdec":-3.30},{"pmra":2.08,"pmdec":-2.93},{"pmra":2.22,"pmdec":-2.91},{"pmra":2.30,"pmdec":-3.03},{"pmra":2.35,"pmdec":-2.98},{"pmra":2.43,"pmdec":-3.14},{"pmra":2.47,"pmdec":-3.03},{"pmra":2.53,"pmdec":-2.95},{"pmra":2.57,"pmdec":-3.09},{"pmra":2.68,"pmdec":-3.22},{"pmra":2.74,"pmdec":-3.06},{"pmra":2.80,"pmdec":-3.25},{"pmra":2.84,"pmdec":-2.97},{"pmra":2.90,"pmdec":-3.14},{"pmra":2.96,"pmdec":-3.05},{"pmra":3.01,"pmdec":-3.26},{"pmra":3.07,"pmdec":-2.94},{"pmra":3.13,"pmdec":-3.11},{"pmra":3.18,"pmdec":-3.00},{"pmra":3.25,"pmdec":-3.18},{"pmra":3.30,"pmdec":-3.08},{"pmra":3.36,"pmdec":-2.95},{"pmra":3.42,"pmdec":-3.24},{"pmra":3.48,"pmdec":-3.13},{"pmra":3.55,"pmdec":-2.99},{"pmra":3.61,"pmdec":-3.20},{"pmra":3.68,"pmdec":-3.06},{"pmra":3.74,"pmdec":-3.29},{"pmra":3.80,"pmdec":-2.96},{"pmra":3.86,"pmdec":-3.16},{"pmra":3.92,"pmdec":-3.02},{"pmra":3.98,"pmdec":-3.22},{"pmra":4.04,"pmdec":-3.09},{"pmra":4.11,"pmdec":-3.27},{"pmra":4.18,"pmdec":-2.97},{"pmra":4.25,"pmdec":-3.12},{"pmra":4.33,"pmdec":-3.04},{"pmra":4.40,"pmdec":-3.20},{"pmra":4.46,"pmdec":-2.99},{"pmra":4.55,"pmdec":-3.15},{"pmra":2.27,"pmdec":-3.20},{"pmra":3.44,"pmdec":-3.00},
{"pmra":2.31,"pmdec":-3.61},{"pmra":2.37,"pmdec":-3.52},{"pmra":2.44,"pmdec":-3.66},{"pmra":2.48,"pmdec":-3.58},{"pmra":2.55,"pmdec":-3.65},{"pmra":2.67,"pmdec":-3.58},{"pmra":2.76,"pmdec":-3.40},{"pmra":2.91,"pmdec":-3.48},{"pmra":3.04,"pmdec":-3.53},{"pmra":3.10,"pmdec":-3.60},{"pmra":3.18,"pmdec":-3.46},{"pmra":3.26,"pmdec":-3.38},{"pmra":3.34,"pmdec":-3.69},{"pmra":3.44,"pmdec":-3.43},{"pmra":3.52,"pmdec":-3.35},{"pmra":3.62,"pmdec":-3.56},{"pmra":3.71,"pmdec":-3.44},{"pmra":3.79,"pmdec":-3.60},{"pmra":3.87,"pmdec":-3.38},{"pmra":3.97,"pmdec":-3.75},{"pmra":4.05,"pmdec":-3.53},{"pmra":4.12,"pmdec":-3.66},{"pmra":4.25,"pmdec":-3.33},{"pmra":4.36,"pmdec":-3.49},{"pmra":4.52,"pmdec":-3.51},{"pmra":3.84,"pmdec":-3.62},{"pmra":2.61,"pmdec":-3.35},{"pmra":3.66,"pmdec":-3.33},
{"pmra":2.24,"pmdec":-3.78},{"pmra":2.26,"pmdec":-3.97},{"pmra":2.29,"pmdec":-3.89},{"pmra":2.34,"pmdec":-3.84},{"pmra":2.38,"pmdec":-3.95},{"pmra":2.41,"pmdec":-3.77},{"pmra":2.56,"pmdec":-3.86},{"pmra":2.73,"pmdec":-3.90},{"pmra":2.77,"pmdec":-3.90},{"pmra":2.90,"pmdec":-3.88},{"pmra":3.05,"pmdec":-3.80},{"pmra":3.11,"pmdec":-3.73},{"pmra":3.18,"pmdec":-3.76},{"pmra":3.24,"pmdec":-3.92},{"pmra":3.31,"pmdec":-3.89},{"pmra":3.37,"pmdec":-3.69},{"pmra":3.40,"pmdec":-3.90},{"pmra":3.65,"pmdec":-3.87},{"pmra":3.73,"pmdec":-3.81},{"pmra":3.83,"pmdec":-4.00},{"pmra":3.97,"pmdec":-3.78},{"pmra":4.28,"pmdec":-3.84},{"pmra":4.35,"pmdec":-3.97},{"pmra":3.20,"pmdec":-3.83},
{"pmra":2.58,"pmdec":-1.72},{"pmra":2.66,"pmdec":-1.83},{"pmra":2.72,"pmdec":-2.09},{"pmra":2.78,"pmdec":-2.28},{"pmra":2.83,"pmdec":-2.61},{"pmra":2.87,"pmdec":-2.13},{"pmra":2.92,"pmdec":-1.86},{"pmra":2.96,"pmdec":-2.36},{"pmra":3.00,"pmdec":-2.71},{"pmra":3.04,"pmdec":-1.94},{"pmra":3.08,"pmdec":-2.52},{"pmra":3.10,"pmdec":-2.31},{"pmra":3.14,"pmdec":-1.91},{"pmra":3.17,"pmdec":-2.43},{"pmra":3.21,"pmdec":-2.63},{"pmra":3.24,"pmdec":-1.87},{"pmra":3.28,"pmdec":-2.47},{"pmra":3.30,"pmdec":-1.70},{"pmra":3.34,"pmdec":-2.58},{"pmra":3.38,"pmdec":-1.91},{"pmra":3.42,"pmdec":-2.72},{"pmra":3.46,"pmdec":-1.97},{"pmra":3.50,"pmdec":-2.41},{"pmra":3.54,"pmdec":-2.63},{"pmra":3.58,"pmdec":-1.98},{"pmra":3.62,"pmdec":-2.49},{"pmra":3.66,"pmdec":-1.76},{"pmra":3.69,"pmdec":-2.58},{"pmra":3.74,"pmdec":-2.13},{"pmra":3.78,"pmdec":-2.66},{"pmra":3.83,"pmdec":-2.04},{"pmra":3.87,"pmdec":-2.47},{"pmra":3.92,"pmdec":-1.93},{"pmra":3.95,"pmdec":-2.69},{"pmra":4.00,"pmdec":-2.15},{"pmra":4.06,"pmdec":-2.54},{"pmra":4.11,"pmdec":-2.06},{"pmra":4.17,"pmdec":-2.62},{"pmra":4.23,"pmdec":-1.88},{"pmra":4.28,"pmdec":-2.48},{"pmra":2.62,"pmdec":-2.88},{"pmra":2.70,"pmdec":-2.98},{"pmra":2.88,"pmdec":-3.05},{"pmra":3.06,"pmdec":-3.18},{"pmra":3.21,"pmdec":-2.97},{"pmra":3.39,"pmdec":-3.12},{"pmra":3.57,"pmdec":-3.05},{"pmra":3.72,"pmdec":-2.92},{"pmra":3.90,"pmdec":-3.10},{"pmra":4.14,"pmdec":-3.08},{"pmra":2.64,"pmdec":-1.27},{"pmra":2.80,"pmdec":-1.16},{"pmra":2.97,"pmdec":-1.26},{"pmra":3.16,"pmdec":-1.04},{"pmra":3.31,"pmdec":-1.12},{"pmra":3.52,"pmdec":-1.21},{"pmra":3.69,"pmdec":-0.95},{"pmra":3.86,"pmdec":-1.17},{"pmra":4.07,"pmdec":-1.23},{"pmra":4.27,"pmdec":-1.30},{"pmra":2.52,"pmdec":-1.38},{"pmra":2.35,"pmdec":-1.80},{"pmra":2.26,"pmdec":-2.52},{"pmra":2.44,"pmdec":-2.70},{"pmra":2.19,"pmdec":-2.12},{"pmra":2.13,"pmdec":-1.60},{"pmra":4.36,"pmdec":-2.08},{"pmra":4.43,"pmdec":-2.52},{"pmra":4.49,"pmdec":-1.72},{"pmra":4.56,"pmdec":-2.88},{"pmra":4.61,"pmdec":-2.47},{"pmra":2.49,"pmdec":-3.30},{"pmra":2.95,"pmdec":-3.40},{"pmra":3.48,"pmdec":-3.55},{"pmra":4.00,"pmdec":-3.40},{"pmra":4.42,"pmdec":-3.63},{"pmra":2.28,"pmdec":-0.62},{"pmra":2.91,"pmdec":-0.48},{"pmra":3.61,"pmdec":-0.55},{"pmra":4.17,"pmdec":-0.46},{"pmra":3.12,"pmdec":-2.40},{"pmra":3.27,"pmdec":-2.12},{"pmra":3.35,"pmdec":-2.37},{"pmra":3.41,"pmdec":-2.02},{"pmra":3.47,"pmdec":-2.34},{"pmra":3.22,"pmdec":-2.23},{"pmra":3.29,"pmdec":-2.18},{"pmra":3.39,"pmdec":-2.29},{"pmra":3.32,"pmdec":-2.05},{"pmra":3.18,"pmdec":-2.34}
],
"plx":[
{"pmra":3.529,"plx":3.45},{"pmra":2.713,"plx":2.56},{"pmra":2.566,"plx":2.36},{"pmra":2.723,"plx":2.07},{"pmra":3.144,"plx":2.31},{"pmra":3.261,"plx":2.23},{"pmra":3.197,"plx":2.09},{"pmra":3.660,"plx":2.43},{"pmra":4.106,"plx":2.50},{"pmra":3.697,"plx":2.07},{"pmra":3.489,"plx":2.03},{"pmra":4.447,"plx":2.06},{"pmra":2.426,"plx":1.67},{"pmra":3.888,"plx":1.81},{"pmra":4.000,"plx":1.64},{"pmra":2.758,"plx":1.48},{"pmra":3.426,"plx":1.57},{"pmra":3.537,"plx":1.59},{"pmra":3.516,"plx":1.33},{"pmra":2.032,"plx":1.34},{"pmra":2.061,"plx":1.36},{"pmra":2.641,"plx":1.36},{"pmra":2.646,"plx":1.25},{"pmra":2.223,"plx":1.25},{"pmra":2.521,"plx":1.30},{"pmra":2.984,"plx":1.41},{"pmra":3.064,"plx":1.40},{"pmra":3.170,"plx":1.29},{"pmra":3.277,"plx":1.43},{"pmra":3.295,"plx":1.45},{"pmra":3.375,"plx":1.33},{"pmra":4.021,"plx":1.49},{"pmra":4.085,"plx":1.41},{"pmra":4.319,"plx":1.52},{"pmra":4.527,"plx":1.33},{"pmra":4.202,"plx":1.25},{"pmra":3.843,"plx":1.25},{"pmra":4.372,"plx":1.08},{"pmra":4.316,"plx":0.84},{"pmra":4.521,"plx":0.86},{"pmra":4.598,"plx":1.30},
{"pmra":2.035,"plx":-2.03},{"pmra":2.106,"plx":-1.49},{"pmra":2.378,"plx":-1.35},{"pmra":2.452,"plx":-1.60},{"pmra":2.372,"plx":-3.03},{"pmra":2.543,"plx":-1.94},{"pmra":2.566,"plx":-1.33},{"pmra":2.755,"plx":-1.83},{"pmra":2.880,"plx":-2.07},{"pmra":3.059,"plx":-1.43},{"pmra":3.080,"plx":-1.68},{"pmra":3.335,"plx":-2.35},{"pmra":3.463,"plx":-1.59},{"pmra":3.673,"plx":-1.97},{"pmra":3.793,"plx":-1.92},{"pmra":3.902,"plx":-1.97},{"pmra":3.681,"plx":-1.36},{"pmra":3.819,"plx":-1.35},{"pmra":4.016,"plx":-1.63},{"pmra":4.048,"plx":-1.42},{"pmra":4.221,"plx":-1.68},{"pmra":4.287,"plx":-1.21},{"pmra":2.702,"plx":-1.21},{"pmra":2.904,"plx":-1.17},{"pmra":3.207,"plx":-1.15},{"pmra":3.266,"plx":-1.08},{"pmra":3.449,"plx":-1.17},{"pmra":3.529,"plx":-1.17},{"pmra":3.564,"plx":-1.09},{"pmra":2.346,"plx":-1.09},{"pmra":2.239,"plx":-1.01},{"pmra":2.080,"plx":-0.83},{"pmra":3.843,"plx":-1.15},{"pmra":4.000,"plx":-0.92},{"pmra":4.327,"plx":-0.89},{"pmra":4.404,"plx":-0.95},
{"pmra":2.07,"plx":0.72},{"pmra":2.10,"plx":0.62},{"pmra":2.28,"plx":0.93},{"pmra":2.34,"plx":0.79},{"pmra":2.41,"plx":0.87},{"pmra":2.45,"plx":0.64},{"pmra":2.53,"plx":0.75},{"pmra":2.66,"plx":0.68},{"pmra":2.72,"plx":0.94},{"pmra":2.78,"plx":0.89},{"pmra":2.84,"plx":0.95},{"pmra":2.96,"plx":0.98},{"pmra":3.05,"plx":0.86},{"pmra":3.10,"plx":0.66},{"pmra":3.17,"plx":0.92},{"pmra":3.21,"plx":0.72},{"pmra":3.27,"plx":0.86},{"pmra":3.33,"plx":0.64},{"pmra":3.38,"plx":0.78},{"pmra":3.44,"plx":0.91},{"pmra":3.49,"plx":0.70},{"pmra":3.56,"plx":0.83},{"pmra":3.63,"plx":0.97},{"pmra":3.68,"plx":0.67},{"pmra":3.74,"plx":0.84},{"pmra":3.80,"plx":0.72},{"pmra":3.87,"plx":0.93},{"pmra":3.94,"plx":0.79},{"pmra":4.01,"plx":0.95},{"pmra":4.08,"plx":0.85},{"pmra":4.15,"plx":0.66},{"pmra":4.22,"plx":0.88},{"pmra":4.30,"plx":0.76},{"pmra":4.37,"plx":0.94},{"pmra":4.44,"plx":0.71},{"pmra":4.50,"plx":0.78},{"pmra":4.58,"plx":0.87},{"pmra":2.20,"plx":0.68},{"pmra":3.00,"plx":0.74},{"pmra":3.92,"plx":1.07},{"pmra":4.02,"plx":1.05},{"pmra":2.58,"plx":0.82},{"pmra":3.60,"plx":0.61},{"pmra":4.12,"plx":0.60},
{"pmra":2.01,"plx":0.52},{"pmra":2.04,"plx":0.39},{"pmra":2.07,"plx":0.33},{"pmra":2.16,"plx":0.30},{"pmra":2.22,"plx":0.58},{"pmra":2.27,"plx":0.34},{"pmra":2.33,"plx":0.49},{"pmra":2.37,"plx":0.36},{"pmra":2.42,"plx":0.55},{"pmra":2.47,"plx":0.41},{"pmra":2.52,"plx":0.32},{"pmra":2.57,"plx":0.50},{"pmra":2.62,"plx":0.38},{"pmra":2.67,"plx":0.56},{"pmra":2.72,"plx":0.44},{"pmra":2.76,"plx":0.33},{"pmra":2.81,"plx":0.52},{"pmra":2.85,"plx":0.39},{"pmra":2.89,"plx":0.58},{"pmra":2.93,"plx":0.46},{"pmra":2.97,"plx":0.34},{"pmra":3.01,"plx":0.53},{"pmra":3.05,"plx":0.42},{"pmra":3.09,"plx":0.31},{"pmra":3.13,"plx":0.57},{"pmra":3.17,"plx":0.45},{"pmra":3.21,"plx":0.36},{"pmra":3.25,"plx":0.54},{"pmra":3.29,"plx":0.40},{"pmra":3.33,"plx":0.31},{"pmra":3.37,"plx":0.49},{"pmra":3.41,"plx":0.58},{"pmra":3.45,"plx":0.37},{"pmra":3.49,"plx":0.46},{"pmra":3.52,"plx":0.55},{"pmra":3.56,"plx":0.33},{"pmra":3.60,"plx":0.44},{"pmra":3.64,"plx":0.52},{"pmra":3.68,"plx":0.38},{"pmra":3.73,"plx":0.48},{"pmra":3.78,"plx":0.57},{"pmra":3.83,"plx":0.35},{"pmra":3.89,"plx":0.45},{"pmra":3.95,"plx":0.54},{"pmra":4.01,"plx":0.31},{"pmra":4.06,"plx":0.50},{"pmra":4.12,"plx":0.40},{"pmra":4.18,"plx":0.58},{"pmra":4.24,"plx":0.34},{"pmra":4.31,"plx":0.47},{"pmra":4.38,"plx":0.56},{"pmra":4.45,"plx":0.42},{"pmra":4.52,"plx":0.32},{"pmra":4.60,"plx":0.49},{"pmra":3.50,"plx":0.30},{"pmra":3.55,"plx":0.42},{"pmra":3.40,"plx":0.33},
{"pmra":2.00,"plx":0.20},{"pmra":2.05,"plx":0.05},{"pmra":2.09,"plx":0.27},{"pmra":2.14,"plx":0.12},{"pmra":2.19,"plx":0.02},{"pmra":2.24,"plx":0.22},{"pmra":2.29,"plx":0.09},{"pmra":2.34,"plx":0.26},{"pmra":2.38,"plx":0.14},{"pmra":2.43,"plx":0.03},{"pmra":2.48,"plx":0.24},{"pmra":2.52,"plx":0.11},{"pmra":2.57,"plx":0.28},{"pmra":2.61,"plx":0.06},{"pmra":2.66,"plx":0.18},{"pmra":2.70,"plx":0.01},{"pmra":2.74,"plx":0.25},{"pmra":2.78,"plx":0.10},{"pmra":2.82,"plx":0.21},{"pmra":2.85,"plx":0.04},{"pmra":2.88,"plx":0.16},{"pmra":2.91,"plx":0.27},{"pmra":2.94,"plx":0.08},{"pmra":2.97,"plx":0.19},{"pmra":3.00,"plx":0.02},{"pmra":3.03,"plx":0.23},{"pmra":3.06,"plx":0.12},{"pmra":3.09,"plx":0.28},{"pmra":3.11,"plx":0.05},{"pmra":3.14,"plx":0.17},{"pmra":3.17,"plx":0.09},{"pmra":3.20,"plx":0.25},{"pmra":3.22,"plx":0.03},{"pmra":3.25,"plx":0.14},{"pmra":3.27,"plx":0.06},{"pmra":3.30,"plx":0.21},{"pmra":3.32,"plx":0.10},{"pmra":3.35,"plx":0.27},{"pmra":3.38,"plx":0.15},{"pmra":3.40,"plx":0.04},{"pmra":3.43,"plx":0.22},{"pmra":3.46,"plx":0.12},{"pmra":3.49,"plx":0.29},{"pmra":3.52,"plx":0.18},{"pmra":3.55,"plx":0.07},{"pmra":3.58,"plx":0.24},{"pmra":3.61,"plx":0.13},{"pmra":3.64,"plx":0.02},{"pmra":3.68,"plx":0.20},{"pmra":3.72,"plx":0.09},{"pmra":3.76,"plx":0.26},{"pmra":3.81,"plx":0.15},{"pmra":3.86,"plx":0.04},{"pmra":3.91,"plx":0.22},{"pmra":3.96,"plx":0.11},{"pmra":4.01,"plx":0.27},{"pmra":4.06,"plx":0.07},{"pmra":4.11,"plx":0.18},{"pmra":4.17,"plx":0.01},{"pmra":4.23,"plx":0.23},{"pmra":4.29,"plx":0.12},{"pmra":4.35,"plx":0.25},{"pmra":4.42,"plx":0.05},{"pmra":4.48,"plx":0.19},{"pmra":4.55,"plx":0.09},{"pmra":4.61,"plx":0.22},{"pmra":3.24,"plx":0.08},{"pmra":3.28,"plx":0.12},{"pmra":3.19,"plx":0.05},{"pmra":3.33,"plx":0.03},{"pmra":3.36,"plx":0.09},{"pmra":3.13,"plx":0.02},
{"pmra":2.02,"plx":-0.15},{"pmra":2.06,"plx":-0.04},{"pmra":2.11,"plx":-0.26},{"pmra":2.16,"plx":-0.11},{"pmra":2.21,"plx":-0.22},{"pmra":2.26,"plx":-0.02},{"pmra":2.31,"plx":-0.17},{"pmra":2.36,"plx":-0.28},{"pmra":2.40,"plx":-0.08},{"pmra":2.45,"plx":-0.19},{"pmra":2.50,"plx":-0.03},{"pmra":2.55,"plx":-0.25},{"pmra":2.59,"plx":-0.12},{"pmra":2.64,"plx":-0.01},{"pmra":2.68,"plx":-0.21},{"pmra":2.72,"plx":-0.09},{"pmra":2.76,"plx":-0.27},{"pmra":2.80,"plx":-0.14},{"pmra":2.84,"plx":-0.05},{"pmra":2.87,"plx":-0.23},{"pmra":2.91,"plx":-0.11},{"pmra":2.95,"plx":-0.02},{"pmra":2.98,"plx":-0.18},{"pmra":3.01,"plx":-0.07},{"pmra":3.04,"plx":-0.26},{"pmra":3.07,"plx":-0.13},{"pmra":3.10,"plx":-0.03},{"pmra":3.13,"plx":-0.20},{"pmra":3.16,"plx":-0.09},{"pmra":3.19,"plx":-0.28},{"pmra":3.22,"plx":-0.15},{"pmra":3.25,"plx":-0.04},{"pmra":3.28,"plx":-0.22},{"pmra":3.31,"plx":-0.11},{"pmra":3.34,"plx":-0.01},{"pmra":3.37,"plx":-0.17},{"pmra":3.40,"plx":-0.27},{"pmra":3.43,"plx":-0.06},{"pmra":3.47,"plx":-0.19},{"pmra":3.50,"plx":-0.10},{"pmra":3.54,"plx":-0.25},{"pmra":3.58,"plx":-0.03},{"pmra":3.62,"plx":-0.16},{"pmra":3.66,"plx":-0.08},{"pmra":3.70,"plx":-0.23},{"pmra":3.75,"plx":-0.12},{"pmra":3.80,"plx":-0.02},{"pmra":3.85,"plx":-0.20},{"pmra":3.90,"plx":-0.09},{"pmra":3.95,"plx":-0.27},{"pmra":4.00,"plx":-0.14},{"pmra":4.05,"plx":-0.04},{"pmra":4.10,"plx":-0.22},{"pmra":4.16,"plx":-0.11},{"pmra":4.22,"plx":-0.26},{"pmra":4.28,"plx":-0.06},{"pmra":4.34,"plx":-0.18},{"pmra":4.41,"plx":-0.10},{"pmra":4.47,"plx":-0.24},{"pmra":4.54,"plx":-0.03},{"pmra":4.60,"plx":-0.15},{"pmra":3.21,"plx":-0.06},{"pmra":3.26,"plx":-0.12},{"pmra":3.08,"plx":-0.05},
{"pmra":2.03,"plx":-0.35},{"pmra":2.08,"plx":-0.45},{"pmra":2.13,"plx":-0.58},{"pmra":2.18,"plx":-0.33},{"pmra":2.23,"plx":-0.48},{"pmra":2.29,"plx":-0.39},{"pmra":2.33,"plx":-0.56},{"pmra":2.39,"plx":-0.31},{"pmra":2.44,"plx":-0.47},{"pmra":2.49,"plx":-0.37},{"pmra":2.54,"plx":-0.52},{"pmra":2.59,"plx":-0.42},{"pmra":2.65,"plx":-0.59},{"pmra":2.71,"plx":-0.34},{"pmra":2.77,"plx":-0.49},{"pmra":2.83,"plx":-0.40},{"pmra":2.88,"plx":-0.55},{"pmra":2.93,"plx":-0.32},{"pmra":2.98,"plx":-0.46},{"pmra":3.03,"plx":-0.38},{"pmra":3.08,"plx":-0.53},{"pmra":3.13,"plx":-0.43},{"pmra":3.18,"plx":-0.31},{"pmra":3.23,"plx":-0.50},{"pmra":3.28,"plx":-0.36},{"pmra":3.33,"plx":-0.57},{"pmra":3.39,"plx":-0.44},{"pmra":3.44,"plx":-0.33},{"pmra":3.50,"plx":-0.51},{"pmra":3.55,"plx":-0.40},{"pmra":3.61,"plx":-0.58},{"pmra":3.66,"plx":-0.35},{"pmra":3.72,"plx":-0.48},{"pmra":3.79,"plx":-0.38},{"pmra":3.86,"plx":-0.54},{"pmra":3.93,"plx":-0.43},{"pmra":4.00,"plx":-0.32},{"pmra":4.07,"plx":-0.50},{"pmra":4.14,"plx":-0.39},{"pmra":4.21,"plx":-0.57},{"pmra":4.28,"plx":-0.45},{"pmra":4.36,"plx":-0.34},{"pmra":4.44,"plx":-0.52},{"pmra":4.51,"plx":-0.47},{"pmra":4.58,"plx":-0.58},{"pmra":3.60,"plx":-0.55},{"pmra":3.65,"plx":-0.45},
{"pmra":2.11,"plx":-0.63},{"pmra":2.22,"plx":-0.77},{"pmra":2.31,"plx":-0.66},{"pmra":2.37,"plx":-0.86},{"pmra":2.46,"plx":-0.72},{"pmra":2.52,"plx":-0.81},{"pmra":2.60,"plx":-0.64},{"pmra":2.69,"plx":-0.90},{"pmra":2.79,"plx":-0.70},{"pmra":2.87,"plx":-0.84},{"pmra":2.97,"plx":-0.62},{"pmra":3.04,"plx":-0.79},{"pmra":3.12,"plx":-0.95},{"pmra":3.18,"plx":-0.68},{"pmra":3.26,"plx":-0.85},{"pmra":3.33,"plx":-0.73},{"pmra":3.41,"plx":-0.92},{"pmra":3.47,"plx":-0.65},{"pmra":3.57,"plx":-0.80},{"pmra":3.64,"plx":-0.94},{"pmra":3.73,"plx":-0.70},{"pmra":3.82,"plx":-0.87},{"pmra":3.91,"plx":-0.67},{"pmra":4.00,"plx":-0.78},{"pmra":4.08,"plx":-0.96},{"pmra":4.17,"plx":-0.71},{"pmra":4.26,"plx":-0.83},{"pmra":4.35,"plx":-0.64},{"pmra":4.45,"plx":-0.76},{"pmra":4.56,"plx":-0.69},{"pmra":3.38,"plx":-0.95},{"pmra":2.55,"plx":-0.97},
{"pmra":2.84,"plx":0.12},{"pmra":2.90,"plx":-0.07},{"pmra":2.96,"plx":0.30},{"pmra":3.02,"plx":-0.15},{"pmra":3.05,"plx":0.06},{"pmra":3.08,"plx":0.18},{"pmra":3.12,"plx":-0.10},{"pmra":3.15,"plx":0.33},{"pmra":3.18,"plx":-0.02},{"pmra":3.21,"plx":0.16},{"pmra":3.23,"plx":-0.20},{"pmra":3.26,"plx":0.27},{"pmra":3.29,"plx":0.01},{"pmra":3.31,"plx":-0.08},{"pmra":3.34,"plx":0.19},{"pmra":3.36,"plx":-0.25},{"pmra":3.39,"plx":0.08},{"pmra":3.42,"plx":0.36},{"pmra":3.44,"plx":-0.14},{"pmra":3.47,"plx":0.05},{"pmra":3.50,"plx":0.41},{"pmra":3.53,"plx":-0.06},{"pmra":3.56,"plx":0.20},{"pmra":3.59,"plx":-0.30},{"pmra":3.63,"plx":0.12},{"pmra":3.67,"plx":0.35},{"pmra":3.71,"plx":-0.04},{"pmra":3.75,"plx":0.22},{"pmra":3.79,"plx":-0.18},{"pmra":3.83,"plx":0.08},{"pmra":2.70,"plx":-0.40},{"pmra":2.80,"plx":0.42},{"pmra":2.98,"plx":-0.52},{"pmra":3.07,"plx":0.62},{"pmra":3.16,"plx":-0.63},{"pmra":3.24,"plx":0.70},{"pmra":3.37,"plx":-0.70},{"pmra":3.46,"plx":0.64},{"pmra":3.54,"plx":-0.82},{"pmra":3.70,"plx":0.75},{"pmra":3.88,"plx":-0.62},{"pmra":4.04,"plx":0.62},{"pmra":4.20,"plx":-0.35},{"pmra":4.33,"plx":0.37},{"pmra":4.50,"plx":0.05},{"pmra":2.25,"plx":0.42},{"pmra":2.38,"plx":-0.44},{"pmra":2.50,"plx":0.62},{"pmra":2.62,"plx":-0.75},{"pmra":2.12,"plx":-0.06},{"pmra":3.98,"plx":0.40},{"pmra":4.13,"plx":-0.55},{"pmra":4.40,"plx":0.80},{"pmra":4.57,"plx":-0.35},{"pmra":2.44,"plx":1.02},{"pmra":2.93,"plx":1.08},{"pmra":3.40,"plx":1.12},{"pmra":3.60,"plx":1.05},{"pmra":4.26,"plx":1.00},{"pmra":2.17,"plx":-1.02},{"pmra":2.86,"plx":-1.05},{"pmra":3.15,"plx":-1.28},{"pmra":3.74,"plx":-1.10},{"pmra":4.14,"plx":-1.12},{"pmra":4.50,"plx":-1.07},{"pmra":3.27,"plx":0.04},{"pmra":3.30,"plx":0.10},{"pmra":3.22,"plx":0.09},{"pmra":3.20,"plx":-0.03},{"pmra":3.33,"plx":0.15}
]
},
"hconcat":[
{"data":{"name":"radec"},"width":312,"height":272,
"mark":{"type":"square","size":11,"color":"#ff0000","opacity":0.9,"clip":true},
"encoding":{
"x":{"field":"ra","type":"quantitative","scale":{"domain":[102.028,102.471],"zero":false,"nice":false},
"axis":{"title":"α(degr)","values":[102.03,102.04,102.05,102.06,102.07,102.08,102.09,102.1,102.11,102.12,102.13,102.14,102.15,102.16,102.17,102.18,102.19,102.2,102.21,102.22,102.23,102.24,102.25,102.26,102.27,102.28,102.29,102.3,102.31,102.32,102.33,102.34,102.35,102.36,102.37,102.38,102.39,102.4,102.41,102.42,102.43,102.44,102.45,102.46,102.47],
"labelExpr":"abs(datum.value*10-round(datum.value*10))<0.001 ? format(datum.value,'.1f') : ''",
"tickSize":{"condition":{"test":"abs(datum.value*10-round(datum.value*10))<0.001","value":6},"value":3},
"labelFontSize":{"condition":{"test":"abs(datum.value*10-round(datum.value*10))<0.001","value":14},"value":0},
"labelPadding":2,"titlePadding":4}},
"y":{"field":"dec","type":"quantitative","scale":{"domain":[-36.189,-35.811],"zero":false,"nice":false},
"axis":{"title":"δ(degr)","values":[-35.82,-35.83,-35.84,-35.85,-35.86,-35.87,-35.88,-35.89,-35.9,-35.91,-35.92,-35.93,-35.94,-35.95,-35.96,-35.97,-35.98,-35.99,-36,-36.01,-36.02,-36.03,-36.04,-36.05,-36.06,-36.07,-36.08,-36.09,-36.1,-36.11,-36.12,-36.13,-36.14,-36.15,-36.16,-36.17,-36.18],
"labelExpr":"abs(datum.value*10-round(datum.value*10))<0.001 ? format(datum.value,'.1f') : ''",
"tickSize":{"condition":{"test":"abs(datum.value*10-round(datum.value*10))<0.001","value":6},"value":3},
"labelFontSize":{"condition":{"test":"abs(datum.value*10-round(datum.value*10))<0.001","value":14},"value":0},
"labelPadding":10,"titlePadding":8}}
}},
{"data":{"name":"pm"},"width":336,"height":268,
"mark":{"type":"square","size":11,"color":"#ff0000","opacity":0.9,"clip":true},
"encoding":{
"x":{"field":"pmra","type":"quantitative","scale":{"domain":[1.952,4.636],"zero":false,"nice":false},
"axis":{"title":"μα*(mas/yr)","values":[2,2.1,2.2,2.3,2.4,2.5,2.6,2.7,2.8,2.9,3,3.1,3.2,3.3,3.4,3.5,3.6,3.7,3.8,3.9,4,4.1,4.2,4.3,4.4,4.5,4.6],
"labelExpr":"abs(datum.value*2-round(datum.value*2))<0.001 ? format(datum.value,'.1f') : ''",
"tickSize":{"condition":{"test":"abs(datum.value*2-round(datum.value*2))<0.001","value":6},"value":3},
"labelFontSize":{"condition":{"test":"abs(datum.value*2-round(datum.value*2))<0.001","value":14},"value":0},
"labelPadding":2,"titlePadding":4}},
"y":{"field":"pmdec","type":"quantitative","scale":{"domain":[-4.061,-0.245],"zero":false,"nice":false},
"axis":{"title":"μδ(mas/yr)","values":[-0.3,-0.4,-0.5,-0.6,-0.7,-0.8,-0.9,-1,-1.1,-1.2,-1.3,-1.4,-1.5,-1.6,-1.7,-1.8,-1.9,-2,-2.1,-2.2,-2.3,-2.4,-2.5,-2.6,-2.7,-2.8,-2.9,-3,-3.1,-3.2,-3.3,-3.4,-3.5,-3.6,-3.7,-3.8,-3.9,-4],
"labelExpr":"abs(datum.value-round(datum.value))<0.001 ? format(datum.value,'d') : ''",
"tickSize":{"condition":{"test":"abs(datum.value-round(datum.value))<0.001","value":6},"value":3},
"labelFontSize":{"condition":{"test":"abs(datum.value-round(datum.value))<0.001","value":14},"value":0},
"labelPadding":5,"titlePadding":10}}
}},
{"data":{"name":"plx"},"width":335,"height":269,
"mark":{"type":"square","size":11,"color":"#ff0000","opacity":0.9,"clip":true},
"encoding":{
"x":{"field":"pmra","type":"quantitative","scale":{"domain":[1.955,4.628],"zero":false,"nice":false},
"axis":{"title":"μα*(mas/yr)","values":[2,2.1,2.2,2.3,2.4,2.5,2.6,2.7,2.8,2.9,3,3.1,3.2,3.3,3.4,3.5,3.6,3.7,3.8,3.9,4,4.1,4.2,4.3,4.4,4.5,4.6],
"labelExpr":"abs(datum.value*2-round(datum.value*2))<0.001 ? format(datum.value,'.1f') : ''",
"tickSize":{"condition":{"test":"abs(datum.value*2-round(datum.value*2))<0.001","value":6},"value":3},
"labelFontSize":{"condition":{"test":"abs(datum.value*2-round(datum.value*2))<0.001","value":14},"value":0},
"labelPadding":2,"titlePadding":4}},
"y":{"field":"plx","type":"quantitative","scale":{"domain":[-3.571,3.742],"zero":false,"nice":false},
"axis":{"title":"ϖ(mas)","values":[-3.5,-3.4,-3.3,-3.2,-3.1,-3,-2.9,-2.8,-2.7,-2.6,-2.5,-2.4,-2.3,-2.2,-2.1,-2,-1.9,-1.8,-1.7,-1.6,-1.5,-1.4,-1.3,-1.2,-1.1,-1,-0.9,-0.8,-0.7,-0.6,-0.5,-0.4,-0.3,-0.2,-0.1,0,0.1,0.2,0.3,0.4,0.5,0.6,0.7,0.8,0.9,1,1.1,1.2,1.3,1.4,1.5,1.6,1.7,1.8,1.9,2,2.1,2.2,2.3,2.4,2.5,2.6,2.7,2.8,2.9,3,3.1,3.2,3.3,3.4,3.5,3.6,3.7],
"labelExpr":"abs(datum.value-round(datum.value))<0.001 ? format(datum.value,'d') : ''",
"tickSize":{"condition":{"test":"abs(datum.value-round(datum.value))<0.001","value":6},"value":3},
"labelFontSize":{"condition":{"test":"abs(datum.value-round(datum.value))<0.001","value":14},"value":0},
"labelPadding":7,"titlePadding":10}}
}}
]
}
